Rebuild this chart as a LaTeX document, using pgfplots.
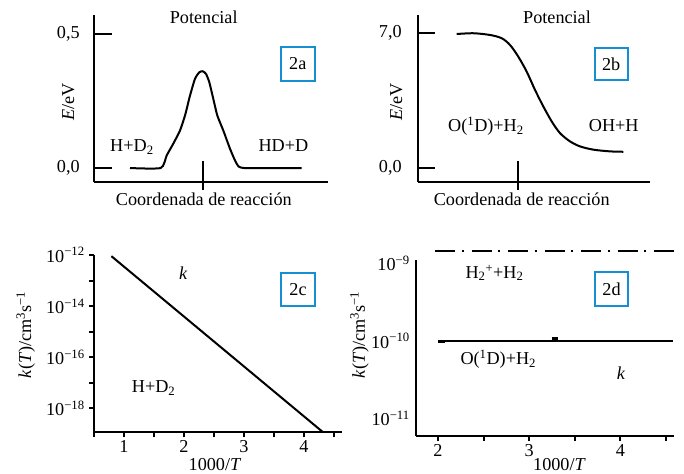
\documentclass[border=0pt]{standalone}
\usepackage{pgfplots}
\pgfplotsset{compat=1.18}
\usepackage{fontspec}
\setmainfont{Liberation Serif}
\definecolor{boxblue}{RGB}{22,142,210}
\begin{document}
\fontsize{18.2}{21}\selectfont
\begin{tikzpicture}[x=1pt,y=1pt]
\useasboundingbox (0pt,0pt) rectangle (684pt,473pt);
\pgfplotsset{
  panel/.style={scale only axis, axis lines=left, axis line style={-, line width=2pt},
    tick style={line width=2pt, black}, clip=false,
    tick label style={font=\fontsize{18.2}{21}\selectfont}},
}
% ---------- 2a ----------
\begin{axis}[panel, at={(94pt,291pt)}, anchor=south west, width=234pt, height=167pt,
  xmin=94, xmax=328, ymin=-0.0521, ymax=0.5708,
  ytick={0,0.5}, yticklabels={{0,0},{0,5}}, tick align=inside, major tick length=18pt,
  yticklabel style={xshift=-8pt},
  xtick=\empty,
  extra x ticks={203}, extra x tick labels={},
  extra x tick style={tick align=center, major tick length=29pt, major tick style={yshift=6.5pt}}]
\addplot[line width=2pt, smooth, tension=0.35] coordinates {
 (130,0) (160.7,0) (166.7,0.047) (173.3,0.091) (180,0.140) (185,0.196) (190,0.270)
 (195,0.333) (199.3,0.357) (202.7,0.361) (206,0.351) (209.3,0.320) (213.3,0.258)
 (217.3,0.196) (223.3,0.140) (230,0.072) (236.7,0.016) (244,0) (301.7,0)};
\end{axis}
% ---------- 2b ----------
\begin{axis}[panel, at={(418pt,291.3pt)}, anchor=south west, width=232.3pt, height=166.7pt,
  xmin=418, xmax=650.3, ymin=-0.728, ymax=7.95,
  ytick={0,7}, yticklabels={{0,0},{7,0}}, tick align=inside, major tick length=17pt,
  yticklabel style={xshift=-10pt},
  xtick=\empty,
  extra x ticks={517.7}, extra x tick labels={},
  extra x tick style={tick align=center, major tick length=29pt, major tick style={yshift=6.5pt}}]
\addplot[line width=2pt, smooth, tension=0.5] coordinates {
 (456.7,6.96) (473.3,7.0) (490,6.91) (501.7,6.74) (510,6.39) (518.3,5.78) (526.7,5.00)
 (535,4.05) (543.3,3.19) (551.7,2.41) (560,1.80) (570,1.37) (580,1.11) (593.3,0.94)
 (610,0.85) (623.3,0.83)};
\end{axis}
% ---------- 2c ----------
\begin{axis}[panel, ymode=log, at={(94pt,40.7pt)}, anchor=south west, width=247.7pt, height=177.3pt,
  xmin=0.5, xmax=4.63, ymin=1.148e-19, ymax=1e-12,
  xtick={1,2,3,4}, xticklabels={1,2,3,4}, minor xtick={0.5,1.5,2.5,3.5,4.5},
  ytick={1e-12,1e-14,1e-16,1e-18},
  yticklabels={10\textsuperscript{−12},10\textsuperscript{−14},10\textsuperscript{−16},10\textsuperscript{−18}},
  minor ytick={1e-13,1e-15,1e-17},
  tick align=outside, major tick length=5pt, minor tick length=5pt,
  xticklabel style={yshift=3pt}, yticklabel style={xshift=2pt}]
\addplot[line width=2pt] coordinates {(0.79,9e-13) (4.32,1.15e-19)};
\end{axis}
% ---------- 2d ----------
\begin{axis}[panel, ymode=log, at={(416pt,37pt)}, anchor=south west, width=257.7pt, height=176pt,
  xmin=1.7586, xmax=4.586, ymin=5.94e-12, ymax=1.109e-9,
  xtick={2,3,4}, xticklabels={2,3,4}, minor xtick={2.5,3.5,4.5},
  ytick={1e-11,1e-10,1e-9},
  yticklabels={10\textsuperscript{−11},10\textsuperscript{−10},10\textsuperscript{−9}},
  ytick style={draw=none},
  tick align=outside, major tick length=5pt, minor tick length=5pt,
  xticklabel style={yshift=3pt}, yticklabel style={xshift=5pt}]
\addplot[line width=2pt, dash pattern=on 20pt off 6.5pt on 2pt off 8pt] coordinates {(1.967,1.45e-9) (4.6,1.45e-9)};
\addplot[line width=2pt] coordinates {(2.0,1e-10) (4.58,1e-10)};
\addplot[line width=3pt] coordinates {(2.0,0.98e-10) (2.077,0.98e-10)};
\addplot[line width=3pt] coordinates {(3.247,1.083e-10) (3.32,1.083e-10)};
\end{axis}
% ---------- texts ----------
% 2a
\node[anchor=base] at (203.7pt,449pt) {Potencial};
\node[rotate=90] at (68.3pt,371.3pt) {\textit{E}/eV};
\node[anchor=base west, inner sep=0pt] at (110pt,321.3pt) {H+D\textsubscript{2}};
\node[anchor=base west, inner sep=0pt] at (258.3pt,321.3pt) {HD+D};
\node[anchor=base] at (203.8pt,267.3pt) {Coordenada de reacción};
\node[draw=boxblue, line width=2pt, minimum width=34.5pt, minimum height=33.5pt, inner sep=0pt] at (297.8pt,409.2pt) {2a};
% 2b
\node[anchor=base] at (557pt,449pt) {Potencial};
\node[rotate=90] at (396.2pt,371.3pt) {\textit{E}/eV};
\node[anchor=base west, inner sep=0pt] at (448pt,341.3pt) {O(\textsuperscript{1}D)+H\textsubscript{2}};
\node[anchor=base west, inner sep=0pt] at (588.7pt,341.3pt) {OH+H};
\node[anchor=base] at (521.7pt,267.3pt) {Coordenada de reacción};
\node[draw=boxblue, line width=2pt, minimum width=33pt, minimum height=32.3pt, inner sep=0pt] at (611.2pt,409.2pt) {2b};
% 2c
\node[rotate=90, anchor=west, inner sep=0pt] at (25.8pt,94.7pt) {\textit{k}(\textit{T})/cm\textsuperscript{3}s\textsuperscript{−1}};
\node[anchor=base] at (183.3pt,193.7pt) {\textit{k}};
\node[anchor=base west, inner sep=0pt] at (131.7pt,80.3pt) {H+D\textsubscript{2}};
\node[anchor=base] at (215pt,3pt) {1000/\textit{T}};
\node[draw=boxblue, line width=2pt, minimum width=34pt, minimum height=33pt, inner sep=0pt] at (298pt,183.8pt) {2c};
% 2d
\node[rotate=90, anchor=west, inner sep=0pt] at (359.5pt,94.7pt) {\textit{k}(\textit{T})/cm\textsuperscript{3}s\textsuperscript{−1}};
\node[anchor=base west, inner sep=0pt] at (465.3pt,194.7pt) {H\textsubscript{2}\textsuperscript{+}+H\textsubscript{2}};
\node[anchor=base west, inner sep=0pt] at (460.3pt,108pt) {O(\textsuperscript{1}D)+H\textsubscript{2}};
\node[anchor=base] at (621pt,93.7pt) {\textit{k}};
\node[anchor=base] at (559.5pt,3pt) {1000/\textit{T}};
\node[draw=boxblue, line width=2pt, minimum width=33.6pt, minimum height=33.7pt, inner sep=0pt] at (611.5pt,184.2pt) {2d};
\end{tikzpicture}
\end{document}
